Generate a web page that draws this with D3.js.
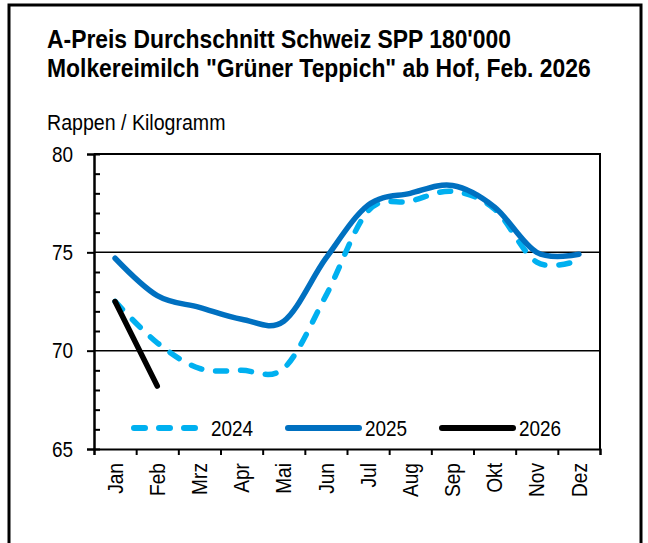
<!DOCTYPE html>
<html>
<head>
<meta charset="utf-8">
<script src="https://cdn.jsdelivr.net/npm/d3@7"></script>
<style>
  body { margin: 0; background: #fff; }
  svg text { font-family: "Liberation Sans", Arial, sans-serif; fill: #000; }
</style>
</head>
<body>
<script>
// Monate und Werte (Rappen / kg)
var monate = ["Jan", "Feb", "Mrz", "Apr", "Mai", "Jun", "Jul", "Aug", "Sep", "Okt", "Nov", "Dez"];
var werte2024 = [72.5, 70.4, 69.1, 69.0, 69.1, 72.8, 77.1, 77.6, 78.1, 77.2, 74.5, 74.6];
var werte2025 = [74.7, 72.8, 72.2, 71.6, 71.5, 74.7, 77.4, 78.0, 78.4, 77.3, 75.0, 74.9];
var werte2026 = [72.5, 68.2];
var yTicks = [65, 70, 75, 80];
var gitter = [70, 75];

var serien = [
  { name: "2024", werte: werte2024, farbe: "#00b0f0", dash: "11,14" },
  { name: "2025", werte: werte2025, farbe: "#0070c0", dash: null },
  { name: "2026", werte: werte2026, farbe: "#000000", dash: null }
];

var svgWidth = 648, svgHeight = 543;
var margin = { top: 154, right: 48, bottom: 94, left: 94 };

// schmale Schrift nachbilden (Arial Narrow nicht vorhanden)
function schmal(sel, f) {
  sel.each(function() {
    var l = this.getComputedTextLength();
    d3.select(this).attr("textLength", l * f).attr("lengthAdjust", "spacingAndGlyphs");
  });
}

var svg = d3.select("body").append("svg")
  .attr("width", svgWidth)
  .attr("height", svgHeight);

// Rahmen aussen
svg.append("rect")
  .attr("x", 9).attr("y", 5)
  .attr("width", 632).attr("height", 600)
  .attr("fill", "none").attr("stroke", "#000").attr("stroke-width", 3);

// Titel
var titel = [
  "A-Preis Durchschnitt Schweiz SPP 180'000",
  "Molkereimilch \"Grüner Teppich\" ab Hof, Feb. 2026"
];
svg.selectAll(".titel")
  .data(titel)
  .enter().append("text")
  .attr("class", "titel")
  .attr("x", 47).attr("y", (d, i) => 48 + i * 29)
  .attr("font-size", 25).attr("font-weight", "bold")
  .text(d => d)
  .call(schmal, 0.915);

svg.append("text").attr("x", 47).attr("y", 130).attr("font-size", 22)
  .text("Rappen / Kilogramm")
  .call(schmal, 0.89);

// Skalen
var x = d3.scaleBand().domain(monate).range([margin.left, svgWidth - margin.right]).padding(0);
var xLin = d3.scaleLinear().domain([0, monate.length]).range([margin.left, svgWidth - margin.right]);
var y = d3.scaleLinear().domain([65, 80]).range([svgHeight - margin.bottom, margin.top]);

// Gitterlinien
svg.selectAll(".gitter")
  .data(gitter)
  .enter().append("line")
  .attr("x1", margin.left).attr("x2", svgWidth - margin.right)
  .attr("y1", d => y(d)).attr("y2", d => y(d))
  .attr("stroke", "#000").attr("stroke-width", 1.5);

// Rahmen Plotbereich (oben, rechts)
svg.append("path")
  .attr("d", "M" + margin.left + "," + y(80) + "H" + (svgWidth - margin.right) + "V" + y(65))
  .attr("fill", "none").attr("stroke", "#000").attr("stroke-width", 2);

// Y-Achse
var yAxis = svg.append("g")
  .attr("transform", "translate(" + margin.left + ",0)")
  .call(d3.axisLeft(y).tickValues(yTicks).tickSize(7).tickPadding(14).tickFormat(d3.format("d")));
yAxis.selectAll("text").attr("font-size", 22).attr("font-family", null).call(schmal, 0.86);

var minor = d3.range(66, 80).filter(d => d % 5 !== 0);
svg.append("g")
  .attr("transform", "translate(" + margin.left + ",0)")
  .call(d3.axisRight(y).tickValues(minor).tickSize(6).tickFormat(""));

// X-Achse
svg.append("g")
  .attr("transform", "translate(0," + y(65) + ")")
  .call(d3.axisBottom(xLin).ticks(12).tickSize(6).tickFormat(""));

var xAxis = svg.append("g")
  .attr("transform", "translate(0," + y(65) + ")")
  .call(d3.axisBottom(x).tickSize(0));
xAxis.select(".domain").remove();
xAxis.selectAll("text")
  .attr("font-size", 22).attr("font-family", null)
  .attr("transform", "rotate(-90)")
  .attr("text-anchor", "end")
  .attr("x", -14).attr("y", 0).attr("dy", "0.35em")
  .call(schmal, 0.87);

svg.selectAll(".domain").attr("stroke-width", 2);
svg.selectAll(".tick line").attr("stroke-width", 2);

// Linien
var linie = d3.line()
  .x((d, i) => x(monate[i]) + x.bandwidth() / 2)
  .y(d => y(d))
  .curve(d3.curveCatmullRom.alpha(0));

serien.forEach(function(s) {
  svg.append("path")
    .datum(s.werte)
    .attr("d", linie)
    .attr("fill", "none")
    .attr("stroke", s.farbe)
    .attr("stroke-width", 5.5)
    .attr("stroke-linecap", "round")
    .attr("stroke-dasharray", s.dash);
});

// Legende
var legX = [134, 288, 442];
var legend = svg.selectAll(".leg")
  .data(serien)
  .enter().append("g")
  .attr("transform", (d, i) => "translate(" + legX[i] + ",428)");
legend.append("line")
  .attr("x1", 0).attr("x2", d => d.dash ? 64 : 71)
  .attr("y1", 0).attr("y2", 0)
  .attr("stroke", d => d.farbe)
  .attr("stroke-width", 6)
  .attr("stroke-linecap", "round")
  .attr("stroke-dasharray", d => d.dash);
legend.append("text")
  .attr("x", 77)
  .attr("y", 0).attr("dy", "0.36em")
  .attr("font-size", 22)
  .text(d => d.name)
  .call(schmal, 0.86);
</script>
</body>
</html>
